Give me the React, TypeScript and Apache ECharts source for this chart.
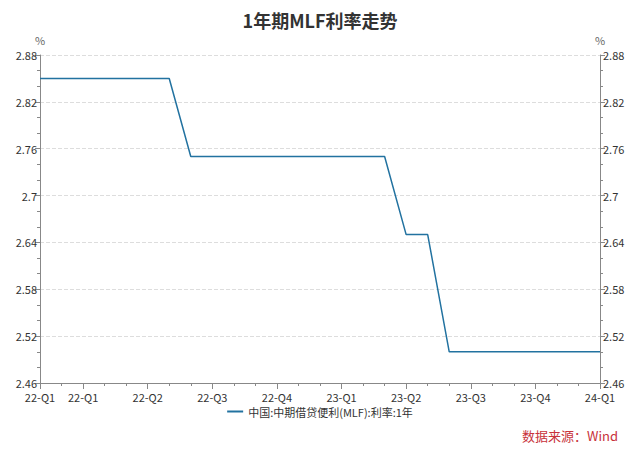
import React, { useEffect, useRef } from "react";
import * as echarts from "echarts";

const months = [
  "2022-01", "2022-02", "2022-03", "2022-04", "2022-05", "2022-06", "2022-07", "2022-08", "2022-09",
  "2022-10", "2022-11", "2022-12", "2023-01", "2023-02", "2023-03", "2023-04", "2023-05", "2023-06",
  "2023-07", "2023-08", "2023-09", "2023-10", "2023-11", "2023-12", "2024-01", "2024-02", "2024-03",
];
const mlfRate = [
  2.85, 2.85, 2.85, 2.85, 2.85, 2.85, 2.85, 2.75, 2.75,
  2.75, 2.75, 2.75, 2.75, 2.75, 2.75, 2.75, 2.75, 2.65,
  2.65, 2.5, 2.5, 2.5, 2.5, 2.5, 2.5, 2.5, 2.5,
];
// index -> quarter label shown on the axis
const tickLabels: Record<number, string> = {
  0: "22-Q1", 2: "22-Q1", 5: "22-Q2", 8: "22-Q3", 11: "22-Q4",
  14: "23-Q1", 17: "23-Q2", 20: "23-Q3", 23: "23-Q4", 26: "24-Q1",
};
const seriesName = "中国:中期借贷便利(MLF):利率:1年";

const FONT = "'Noto Sans CJK SC', 'Noto Sans', sans-serif";

export default function App() {
  const ref = useRef<HTMLDivElement>(null);
  useEffect(() => {
    if (!ref.current) return;
    const chart = echarts.init(ref.current, undefined, { renderer: "svg" });
    const yAxisCommon = {
      type: "value" as const,
      min: 2.46,
      max: 2.88,
      interval: 0.06,
      name: "%",
      nameGap: 10,
      nameTextStyle: { color: "#666", fontSize: 11, fontFamily: FONT, align: "center" as const },
      axisLine: { show: true, lineStyle: { color: "#888" } },
      axisTick: { show: true, length: 5, lineStyle: { color: "#888" } },
      minorTick: { show: true, splitNumber: 3, length: 3, lineStyle: { color: "#888" } },
      axisLabel: { color: "#333", fontSize: 11, fontFamily: FONT, margin: 3, lineHeight: 11 },
    };
    chart.setOption({
      animation: false,
      title: {
        text: "1年期MLF利率走势",
        left: "center",
        top: 0,
        padding: [3, 5],
        textStyle: { fontSize: 18, fontWeight: "bold", color: "#333", fontFamily: FONT },
      },
      grid: { left: 32, right: 32, top: 47, bottom: 62, containLabel: false },
      legend: {
        bottom: 23,
        left: "center",
        icon: "rect",
        itemWidth: 16,
        itemHeight: 2,
        textStyle: { color: "#333", fontSize: 11, fontFamily: FONT },
        data: [seriesName],
      },
      xAxis: [
        {
          type: "category",
          data: months,
          boundaryGap: false,
          axisLine: { lineStyle: { color: "#888" } },
          axisTick: { interval: 0, length: 3, lineStyle: { color: "#888" } },
          axisLabel: { show: false },
        },
        {
          type: "category",
          data: months,
          boundaryGap: false,
          position: "bottom",
          axisLine: { show: false },
          axisTick: {
            length: 6,
            interval: (i: number) => tickLabels[i] !== undefined,
            lineStyle: { color: "#888" },
          },
          axisLabel: {
            interval: (i: number) => tickLabels[i] !== undefined,
            formatter: (_v: string, i: number) => tickLabels[i] ?? "",
            color: "#333",
            fontSize: 11,
            lineHeight: 11,
            fontFamily: FONT,
            margin: 8,
          },
        },
      ],
      yAxis: [
        {
          ...yAxisCommon,
          position: "left",
          splitLine: { show: true, lineStyle: { color: "#ddd", type: "dashed" } },
        },
        {
          ...yAxisCommon,
          position: "right",
          splitLine: { show: false },
        },
      ],
      series: [
        {
          name: seriesName,
          type: "line",
          data: mlfRate,
          symbol: "none",
          lineStyle: { color: "#2272a0", width: 1.5 },
          itemStyle: { color: "#2272a0" },
        },
      ],
      graphic: [
        {
          type: "text",
          right: 14,
          top: 421,
          style: { text: "数据来源：Wind", fill: "#c8323a", fontSize: 13, fontFamily: FONT },
        },
      ],
    });
    return () => chart.dispose();
  }, []);
  return <div ref={ref} style={{ width: 624, height: 437 }} />;
}
